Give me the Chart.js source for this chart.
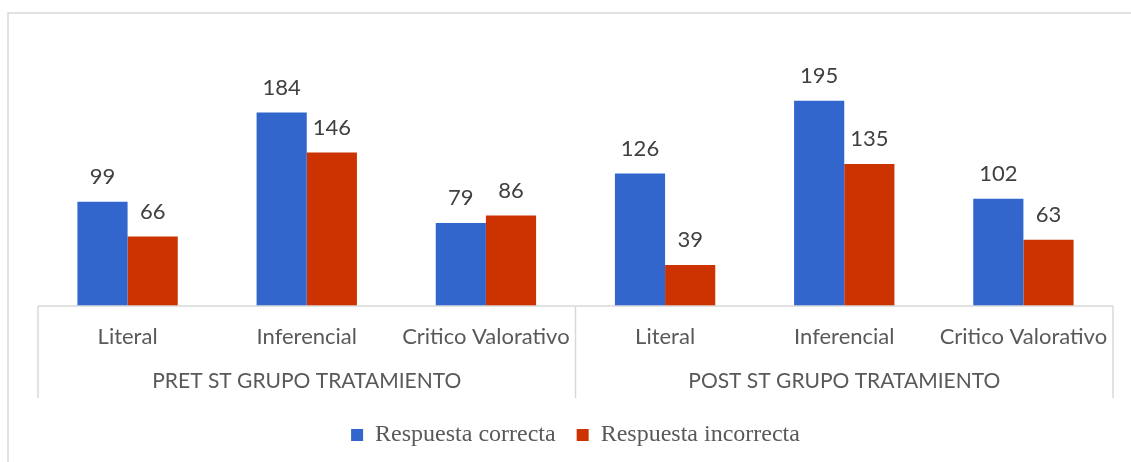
<!DOCTYPE html>
<html>
<head>
<meta charset="utf-8">
<script src="https://cdn.jsdelivr.net/npm/chart.js@4"></script>
<style>
  html, body { margin: 0; padding: 0; background: #fff; }
  #wrap { width: 1131px; height: 462px; }
</style>
</head>
<body>
<div id="wrap"><canvas id="chart"></canvas></div>
<script>
//=[ Data ]======================================================================

const categories = ["Literal", "Inferencial", "Critico Valorativo",
  "Literal", "Inferencial", "Critico Valorativo"];
const groups = ["PRET ST GRUPO TRATAMIENTO", "POST ST GRUPO TRATAMIENTO"];
const correctas = [99, 184, 79, 126, 195, 102];
const incorrectas = [66, 146, 86, 39, 135, 63];

const lineColor = "#d9d9d9";

//=[ Plugins ]===================================================================

// value labels above the bars
const barLabels = {
  id: "barLabels",
  afterDatasetsDraw(chart) {
    const ctx = chart.ctx;
    ctx.save();
    ctx.font = "22px Lato";
    ctx.fillStyle = "#404040";
    ctx.textAlign = "center";
    ctx.textBaseline = "middle";
    chart.data.datasets.forEach((ds, i) => {
      chart.getDatasetMeta(i).data.forEach((bar, j) => {
        ctx.fillText(String(ds.data[j]), bar.x, bar.y - 25);
      });
    });
    ctx.restore();
  },
};

// outer frame, baseline and group separators
const frame = {
  id: "frame",
  beforeDraw(chart) {
    const ctx = chart.ctx;
    ctx.save();
    ctx.strokeStyle = lineColor;
    ctx.lineWidth = 1.5;
    ctx.strokeRect(8, 13, chart.width + 20, chart.height + 20);
    ctx.restore();
  },
  afterDraw(chart) {
    const ctx = chart.ctx;
    const x = chart.scales.x;
    const base = chart.scales.y.getPixelForValue(0);
    const bottom = 398;
    const mid = (x.getPixelForTick(2) + x.getPixelForTick(3)) / 2;
    ctx.save();
    ctx.strokeStyle = lineColor;
    ctx.lineWidth = 1.5;
    ctx.beginPath();
    ctx.moveTo(x.left, base);
    ctx.lineTo(x.right, base);
    [x.left, mid, x.right].forEach((px) => {
      ctx.moveTo(px, base);
      ctx.lineTo(px, bottom);
    });
    ctx.stroke();
    ctx.restore();
  },
};

//=[ Chart ]=====================================================================

const config = {
  type: "bar",
  data: {
    labels: categories,
    datasets: [
      {
        label: "Respuesta correcta",
        data: correctas,
        backgroundColor: "#3366CC",
        categoryPercentage: 0.56,
        barPercentage: 1.0,
      },
      {
        label: "Respuesta incorrecta",
        data: incorrectas,
        backgroundColor: "#CC3300",
        categoryPercentage: 0.56,
        barPercentage: 1.0,
      },
    ],
  },
  options: {
    responsive: true,
    maintainAspectRatio: false,
    animation: false,
    layout: {
      padding: { top: 43, left: 38, right: 18, bottom: 5 },
    },
    scales: {
      y: {
        display: false,
        min: 0,
        max: 250,
      },
      x: {
        position: "bottom",
        grid: { display: false, drawTicks: false },
        border: { display: false },
        ticks: {
          color: "#595959",
          font: { family: "Lato", size: 22 },
          padding: 18,
          maxRotation: 0,
          autoSkip: false,
        },
        afterFit(scale) {
          scale.height = 47;
        },
      },
      x2: {
        type: "category",
        position: "bottom",
        labels: groups,
        offset: true,
        grid: { display: false, drawTicks: false },
        border: { display: false },
        ticks: {
          color: "#595959",
          font: { family: "Lato", size: 21 },
          padding: 16,
          maxRotation: 0,
          autoSkip: false,
        },
        afterFit(scale) {
          scale.height = 49;
        },
      },
    },
    plugins: {
      legend: {
        position: "bottom",
        labels: {
          color: "#595959",
          font: { family: "Liberation Serif", size: 24 },
          boxWidth: 12,
          boxHeight: 12,
          padding: 21,
        },
      },
      tooltip: { enabled: false },
    },
  },
  plugins: [barLabels, frame],
};

new Chart(document.getElementById("chart"), config);
</script>
</body>
</html>
